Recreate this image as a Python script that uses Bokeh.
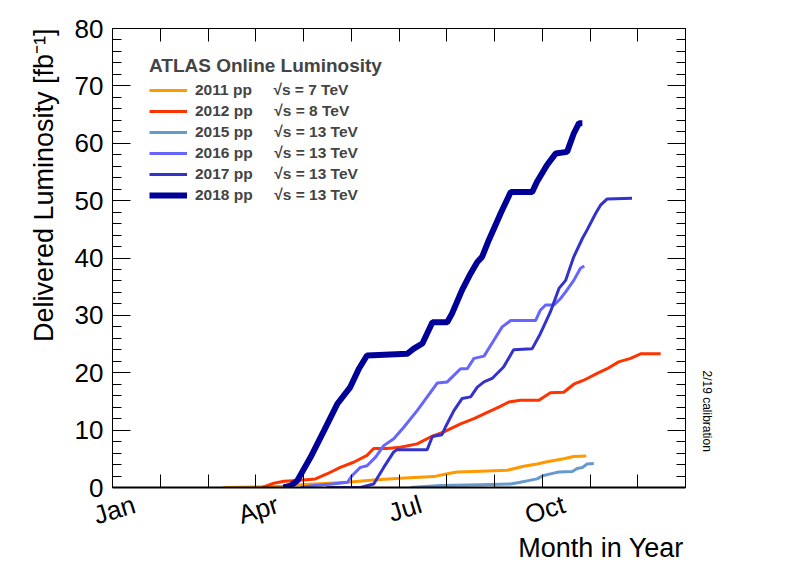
import math
from bokeh.plotting import figure
from bokeh.models import (Range1d, LinearAxis, FixedTicker, SingleIntervalTicker, Title,
                          Legend, LegendItem, CustomJSTickFormatter)
from bokeh.embed import file_html
from bokeh.resources import INLINE

FONT = "Liberation Sans"

# ---- axis data ----
month_ticks = list(range(13))
month_label_pos = [0, 3, 6, 9]
month_label_text = ["Jan", "Apr", "Jul", "Oct"]
x_title = "Month in Year"
y_title = "Delivered Luminosity [fb\u207b\u00b9]"

# ---- series (x = months since 1 Jan, y = fb^-1) ----
x2011 = [2.32, 3.59, 3.94, 4.92, 5.47, 6.03, 6.73, 7.01, 7.22, 7.57, 8.27, 8.61, 8.89, 9.10, 9.45, 9.66, 9.92]
y2011 = [0.0, 0.2, 0.5, 0.9, 1.3, 1.6, 1.9, 2.4, 2.7, 2.8, 3.0, 3.7, 4.1, 4.5, 5.0, 5.4, 5.5]

x2012 = [3.14, 3.38, 3.59, 3.87, 4.25, 4.50, 4.77, 5.05, 5.33, 5.47, 5.75, 6.03, 6.38, 6.66, 6.94, 7.29,
         7.57, 7.85, 8.09, 8.30, 8.54, 8.93, 9.17, 9.45, 9.66, 9.87, 10.15, 10.36, 10.60, 10.85, 11.06, 11.48]
y2012 = [0.0, 0.75, 1.1, 1.2, 1.5, 2.4, 3.5, 4.4, 5.6, 6.8, 6.8, 7.0, 7.6, 8.8, 9.7, 11.1,
         12.0, 13.1, 14.0, 14.9, 15.2, 15.2, 16.5, 16.6, 18.0, 18.7, 19.9, 20.7, 21.9, 22.5, 23.3, 23.3]

x2015 = [6.24, 6.87, 7.71, 8.34, 8.54, 8.71, 8.89, 9.03, 9.24, 9.35, 9.63, 9.73, 9.84, 9.94, 10.08]
y2015 = [0.0, 0.35, 0.5, 0.6, 0.9, 1.2, 1.5, 2.1, 2.5, 2.7, 2.8, 3.3, 3.5, 4.1, 4.2]

x2016 = [3.94, 4.22, 4.60, 4.92, 5.02, 5.19, 5.33, 5.51, 5.68, 5.89, 6.10, 6.38, 6.59, 6.80, 7.01, 7.18,
         7.29, 7.43, 7.57, 7.78, 7.99, 8.16, 8.34, 8.86, 8.96, 9.07, 9.24, 9.38, 9.49, 9.66, 9.80, 9.88]
y2016 = [0.0, 0.35, 0.6, 0.9, 2.1, 3.5, 3.8, 5.3, 7.3, 8.5, 10.5, 13.4, 15.8, 18.2, 18.4, 19.8,
         20.7, 20.7, 22.5, 22.9, 25.7, 28.0, 29.1, 29.1, 30.9, 31.8, 31.8, 32.9, 34.1, 36.1, 38.2, 38.6]

x2017 = [4.48, 5.19, 5.47, 5.68, 5.89, 5.96, 6.59, 6.70, 6.90, 6.97, 7.15, 7.32, 7.50, 7.64, 7.78,
         7.95, 8.19, 8.40, 8.79, 8.96, 9.17, 9.35, 9.49, 9.66, 9.84, 9.94, 10.12, 10.22, 10.36, 10.88]
y2017 = [0.0, 0.0, 0.6, 3.5, 6.2, 6.6, 6.6, 8.9, 9.2, 10.5, 13.4, 15.5, 15.8, 17.5, 18.4,
         19.0, 21.0, 24.0, 24.2, 26.8, 30.6, 34.7, 36.1, 40.2, 43.4, 44.9, 47.8, 49.2, 50.3, 50.4]

x2018 = [3.58, 3.73, 3.87, 4.15, 4.43, 4.71, 4.98, 5.16, 5.33, 6.17, 6.31, 6.49, 6.70, 7.01, 7.11,
         7.32, 7.50, 7.64, 7.74, 7.88, 8.13, 8.34, 8.79, 8.89, 9.10, 9.28, 9.52, 9.66, 9.77, 9.84]
y2018 = [0.0, 0.3, 1.2, 5.3, 9.9, 14.6, 17.5, 20.7, 23.0, 23.3, 24.2, 25.1, 28.8, 28.8, 30.3,
         34.4, 37.3, 39.3, 40.2, 43.1, 47.8, 51.5, 51.5, 53.3, 56.2, 58.2, 58.5, 61.7, 63.5, 63.5]

series = [
    ("2011 pp", "7", x2011, y2011, "#ff9900", 3),
    ("2012 pp", "8", x2012, y2012, "#ff3300", 3),
    ("2015 pp", "13", x2015, y2015, "#6699cc", 3),
    ("2016 pp", "13", x2016, y2016, "#6666ff", 3),
    ("2017 pp", "13", x2017, y2017, "#3333cc", 3),
    ("2018 pp", "13", x2018, y2018, "#000099", 6),
]

LABEL_SHIFT = 0.46     # month-name labels end right of their tick (in months)
XTITLE_CENTER = 10.23  # centre of the x title, so that it ends at the right frame edge

p = figure(width=796, height=572, x_range=Range1d(0, 12), y_range=Range1d(0, 80),
           extra_x_ranges={"lab": Range1d(-LABEL_SHIFT, 12 - LABEL_SHIFT)},
           output_backend="svg", toolbar_location=None,
           x_axis_location=None, y_axis_location=None,
           min_border_left=112, min_border_right=111, min_border_top=28, min_border_bottom=85)
p.grid.visible = False
p.outline_line_color = "black"
p.outline_line_width = 1
p.background_fill_color = "white"
p.border_fill_color = "white"

empty = CustomJSTickFormatter(code="return ''")

def yaxis(labels):
    ax = LinearAxis(ticker=SingleIntervalTicker(interval=10, num_minor_ticks=5))
    ax.major_tick_in = 18
    ax.major_tick_out = 0
    ax.minor_tick_in = 9
    ax.minor_tick_out = 0
    ax.axis_line_color = "black"
    if labels:
        ax.major_label_text_font = FONT
        ax.major_label_text_font_size = "26px"
        ax.major_label_text_color = "black"
        ax.major_label_standoff = 9
    else:
        ax.formatter = empty
        ax.major_label_text_font_size = "1px"
        ax.major_label_standoff = 0
    return ax

def xaxis():
    ax = LinearAxis(ticker=FixedTicker(ticks=month_ticks, minor_ticks=[]), formatter=empty)
    ax.major_tick_in = 13
    ax.major_tick_out = 0
    ax.minor_tick_in = 0
    ax.minor_tick_out = 0
    ax.major_label_text_font_size = "1px"
    ax.major_label_standoff = 0
    ax.axis_line_color = "black"
    return ax

def label_axis(ticks, texts, orientation, size, standoff, range_name="default"):
    ax = LinearAxis(x_range_name=range_name, ticker=FixedTicker(ticks=ticks, minor_ticks=[]),
                    major_label_overrides={k: t for k, t in zip(ticks, texts)},
                    major_label_orientation=orientation)
    ax.major_tick_in = 0
    ax.major_tick_out = 0
    ax.minor_tick_in = 0
    ax.minor_tick_out = 0
    ax.axis_line_color = None
    ax.major_label_text_font = FONT
    ax.major_label_text_font_size = size
    ax.major_label_text_color = "black"
    ax.major_label_standoff = standoff
    return ax

p.add_layout(yaxis(True), "left")
p.add_layout(yaxis(False), "right")
bx = xaxis()
bx.axis_line_width = 2
p.add_layout(bx, "below")
p.add_layout(xaxis(), "above")

# month names (rotated) on a shifted helper axis
p.add_layout(label_axis(month_label_pos, month_label_text, 0.3, "26px", 16, "lab"), "below")
# x title, right-aligned at the frame edge
p.add_layout(label_axis([XTITLE_CENTER], [x_title], "horizontal", "27px", -15), "below")

p.add_layout(Title(text=y_title, align="right", offset=0,
                   vertical_align="bottom", standoff=26, text_font=FONT, text_font_size="27px",
                   text_font_style="normal", text_color="black"), "left")

p.add_layout(Title(text="2/19 calibration", align="left", offset=342, vertical_align="bottom",
                   standoff=28, text_font=FONT, text_font_size="12px",
                   text_font_style="normal", text_color="black"), "right")

items = []
for name, energy, xs, ys, col, lw in series:
    r = p.line(xs, ys, line_color=col, line_width=lw)
    label = name + "\u00a0" * 5 + "\u221as = " + energy + " TeV"
    items.append(LegendItem(label=label, renderers=[r]))

legend = Legend(items=items, location=(37, 283),
                title="ATLAS Online Luminosity",
                title_text_font=FONT, title_text_font_size="19px", title_text_font_style="bold",
                title_standoff=4,
                label_text_font=FONT, label_text_font_size="15.5px", label_text_font_style="bold",
                glyph_width=38, glyph_height=16, label_height=16, label_standoff=8,
                spacing=3, padding=0, margin=0,
                background_fill_alpha=0, border_line_alpha=0)
p.add_layout(legend)

open("out.html", "w").write(file_html(p, INLINE))
